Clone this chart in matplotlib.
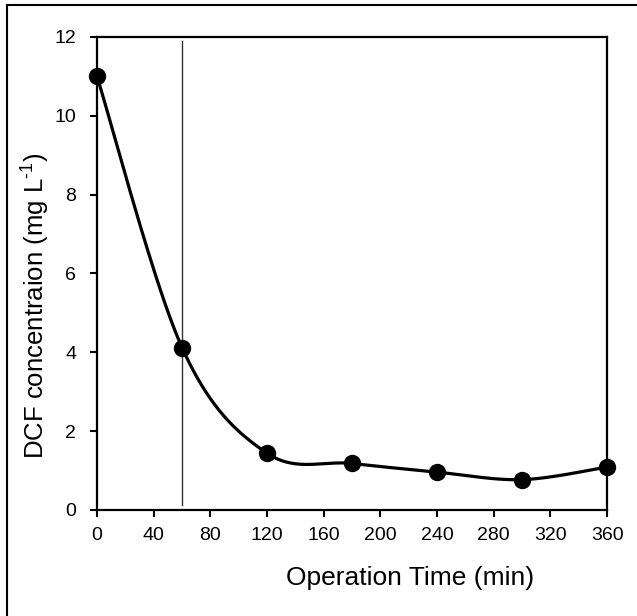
import matplotlib
matplotlib.use("Agg")
import matplotlib.pyplot as plt
from matplotlib.lines import Line2D
import numpy as np

plt.rcParams["font.family"] = ["Liberation Sans", "DejaVu Sans"]
plt.rcParams["mathtext.fontset"] = "custom"
plt.rcParams["mathtext.rm"] = "Liberation Sans"

time_min = [0, 60, 120, 180, 240, 300, 360]
dcf_conc = [11.0, 4.12, 1.44, 1.18, 0.96, 0.77, 1.09]
x_ticks = list(range(0, 361, 40))
y_ticks = list(range(0, 13, 2))
marker_time = 60


def smooth_curve(x, y, sx, sy, n=40):
    # Catmull-Rom (Excel-style smoothing) computed in display-scaled space
    p = np.column_stack([np.asarray(x, float) * sx, np.asarray(y, float) * sy])
    p = np.vstack([p[0], p, p[-1]])
    out = []
    t = np.linspace(0, 1, n)[:, None]
    for i in range(1, len(p) - 2):
        p0, p1, p2, p3 = p[i - 1], p[i], p[i + 1], p[i + 2]
        seg = 0.5 * ((2 * p1) + (-p0 + p2) * t + (2 * p0 - 5 * p1 + 4 * p2 - p3) * t ** 2
                     + (-p0 + 3 * p1 - 3 * p2 + p3) * t ** 3)
        out.append(seg if i == 1 else seg[1:])
    out = np.vstack(out)
    return out[:, 0] / sx, out[:, 1] / sy


fig = plt.figure(figsize=(6.37, 6.16), dpi=100)
ax = fig.add_axes([0.1523, 0.1721, 0.8007, 0.7679])

sx, sy = 510 / 360, 473 / 12
cx, cy = smooth_curve(time_min, dcf_conc, sx, sy)
ax.plot(cx, cy, color="black", lw=2.3, zorder=3)
ax.plot(time_min, dcf_conc, "o", color="black", ms=11.5, zorder=4, clip_on=False)
ax.plot([marker_time, marker_time], [0.12, 11.9], color="#333333", lw=1.0, zorder=2)

ax.set_xlim(0, 360)
ax.set_ylim(0, 12)
ax.set_xticks(x_ticks)
ax.set_yticks(y_ticks)
ax.tick_params(direction="out", length=5, width=1.5, labelsize=14)
ax.tick_params(axis="x", pad=7)
ax.tick_params(axis="y", pad=10)
for s in ax.spines.values():
    s.set_linewidth(1.6)

ax.set_xlabel("Operation Time (min)", fontsize=19, va="center")
ax.set_ylabel("DCF concentraion (mg L$^{\\text{-1}}$)", fontsize=18.5, va="center")
ax.xaxis.set_label_coords(0.614, -0.1438)
ax.yaxis.set_label_coords(-0.122, 0.431)

fig.add_artist(Line2D([7 / 637, 7 / 637], [0, 1 - 5 / 616], color="black", lw=1.5,
                      transform=fig.transFigure))
fig.add_artist(Line2D([7 / 637, 1], [1 - 5 / 616, 1 - 5 / 616], color="black", lw=1.5,
                      transform=fig.transFigure))

fig.savefig("out.png", dpi=100)
